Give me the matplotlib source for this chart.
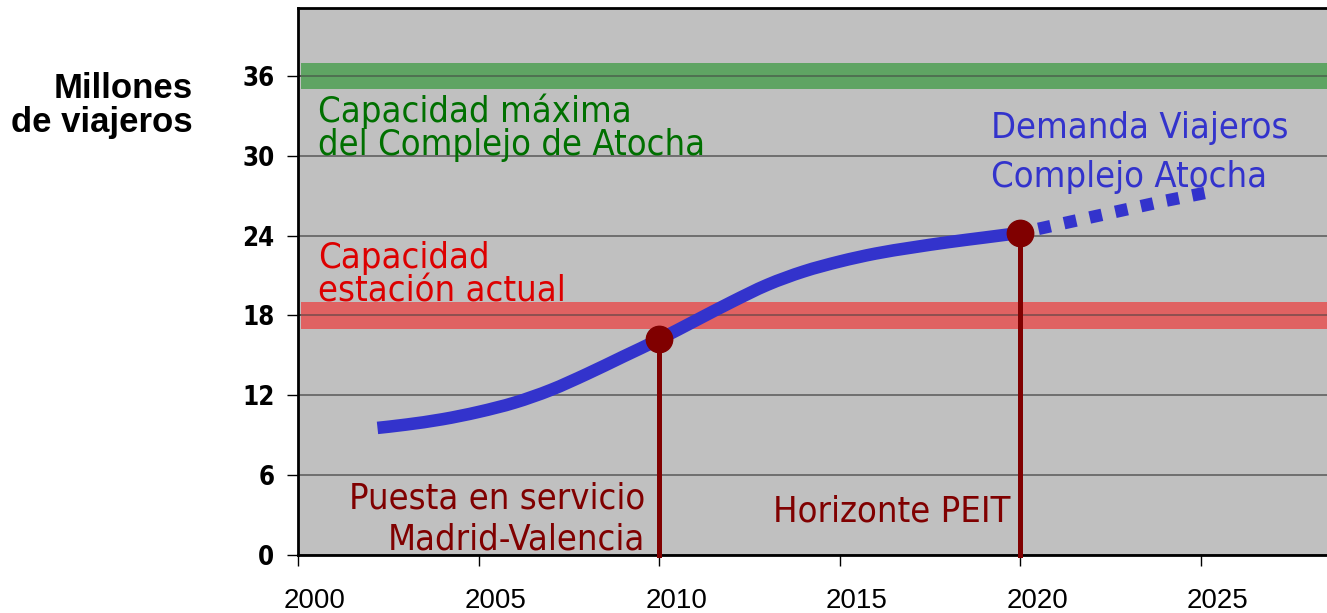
import matplotlib
matplotlib.use('Agg')
import matplotlib.pyplot as plt
import matplotlib.transforms as mtransforms
from matplotlib.path import Path
from matplotlib.patches import PathPatch

# Demand curve (millions of passengers)
years = [2002.2, 2003, 2004, 2005, 2006, 2007, 2008, 2009, 2010, 2011, 2012,
         2013, 2014, 2015, 2016, 2017, 2018, 2019, 2020]
demand = [9.55, 9.8, 10.2, 10.75, 11.45, 12.4, 13.6, 14.9, 16.2, 17.6, 19.0,
          20.3, 21.3, 22.05, 22.65, 23.1, 23.5, 23.85, 24.2]
proj_years = [2020, 2021, 2022, 2023, 2024, 2025.3]
proj_demand = [24.2, 24.8, 25.4, 26.0, 26.6, 27.3]

milestone_years = [2010, 2020]
milestone_values = [16.2, 24.2]

cap_actual = (17.0, 19.0)
cap_max = (35.0, 37.0)

yticks = [0, 6, 12, 18, 24, 30, 36]
xticks = [2000, 2005, 2010, 2015, 2020, 2025]

arial = ['Liberation Sans', 'DejaVu Sans']
narrow = dict(family='DejaVu Sans', fontstretch='condensed')


def smooth_path(xs, ys):
    # Excel-style smoothed line: Catmull-Rom segments as cubic beziers
    pts = list(zip(xs, ys))
    ext = [pts[0]] + pts + [pts[-1]]
    verts = [pts[0]]
    codes = [Path.MOVETO]
    for i in range(1, len(ext) - 2):
        p0, p1, p2, p3 = ext[i - 1], ext[i], ext[i + 1], ext[i + 2]
        c1 = (p1[0] + (p2[0] - p0[0]) / 6, p1[1] + (p2[1] - p0[1]) / 6)
        c2 = (p2[0] - (p3[0] - p1[0]) / 6, p2[1] - (p3[1] - p1[1]) / 6)
        verts += [c1, c2, p2]
        codes += [Path.CURVE4] * 3
    return Path(verts, codes)


fig = plt.figure(figsize=(13.27, 6.13), dpi=100)
ax = fig.add_axes([0.2246, 0.0946, 0.7754, 0.8924])
ax.set_facecolor('#c0c0c0')

ax.set_xlim(2000, 2028.5)
ax.set_ylim(0, 41.1)

ax.set_yticks(yticks)
ax.set_xticks(xticks)
ax.grid(axis='y', color='#606060', linewidth=1.2, zorder=1)
ax.set_axisbelow(True)

# capacity bands
ax.axhspan(cap_max[0], cap_max[1], xmin=0.003, color='#5fa463', zorder=2, lw=0)
ax.axhspan(cap_actual[0], cap_actual[1], xmin=0.003, color='#e06262', zorder=2, lw=0)
for v in (18, 36):
    ax.axhline(v, color='#404040', alpha=0.6, linewidth=1.2, zorder=2.5)

# demand curve + projection
ax.add_patch(PathPatch(smooth_path(years, demand), fill=False, edgecolor='#3333cc',
                       linewidth=9, capstyle='butt', joinstyle='round', zorder=4))
ax.plot(proj_years, proj_demand, color='#3333cc', linewidth=9, linestyle=(0.6, (1.0, 1.1)),
        dash_capstyle='butt', zorder=4)

# milestones
for x, y in zip(milestone_years, milestone_values):
    ax.plot([x, x], [0, y], color='#800000', linewidth=3.6, zorder=5, clip_on=False)
ax.plot(milestone_years, milestone_values, 'o', color='#800000', markersize=19, zorder=6)

for s in ['left', 'bottom', 'top']:
    ax.spines[s].set_color('black')
    ax.spines[s].set_linewidth(2)
ax.spines['right'].set_visible(False)

ax.tick_params(axis='y', direction='out', length=8, width=1, pad=9)
ax.tick_params(axis='x', direction='out', length=8, width=1, pad=16)
for lab in ax.get_yticklabels():
    lab.set_family('DejaVu Sans')
    lab.set_fontstretch('condensed')
    lab.set_fontweight('bold')
    lab.set_fontsize(18.5)
shift = mtransforms.ScaledTranslation(17 / 100, 0, fig.dpi_scale_trans)
for lab in ax.get_xticklabels():
    lab.set_family(arial)
    lab.set_fontsize(20)
    lab.set_transform(lab.get_transform() + shift)

ax.text(2000.55, 30.06, 'Capacidad máxima\ndel Complejo de Atocha', color='#007000',
        fontsize=26, va='baseline', ha='left', linespacing=0.95, zorder=7, **narrow)
ax.text(2000.55, 19.04, 'Capacidad\nestación actual', color='#dd0000',
        fontsize=26, va='baseline', ha='left', linespacing=0.98, zorder=7, **narrow)
ax.text(2019.2, 27.68, 'Demanda Viajeros\nComplejo Atocha', color='#3333cc',
        fontsize=26, va='baseline', ha='left', linespacing=1.55, zorder=7, **narrow)
ax.text(2009.62, 0.38, 'Puesta en servicio\nMadrid-Valencia', color='#800000',
        fontsize=26, va='baseline', ha='right', linespacing=1.26, zorder=7, **narrow)
ax.text(2019.72, 2.5, 'Horizonte PEIT', color='#800000',
        fontsize=26, va='baseline', ha='right', zorder=7, **narrow)

fig.text(193 / 1327, 1 - 131.7 / 613, 'Millones\nde viajeros', ha='right', va='baseline',
         fontsize=25, fontweight='bold', family=arial, linespacing=1.02)

fig.savefig('out.png', dpi=100)
